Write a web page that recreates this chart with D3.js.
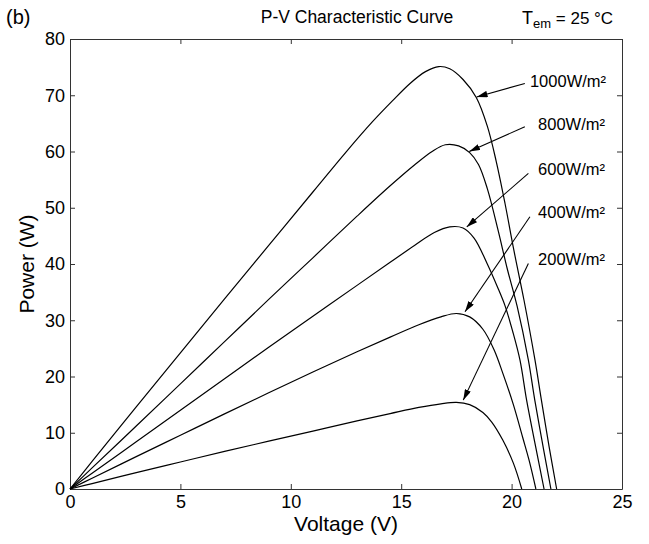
<!DOCTYPE html>
<html>
<head>
<meta charset="utf-8">
<script src="https://cdn.jsdelivr.net/npm/d3@7"></script>
<style>
    body { margin: 0; background: #fff; }
    svg { font-family: "Liberation Sans", Arial, sans-serif; }
    .axis path, .axis line { stroke: #333; }
    .axis text { font-size: 18px; fill: #000; }
    .curve { fill: none; stroke: #000; stroke-width: 1.2px; }
    .pointer { stroke: #000; stroke-width: 1.1px; }
</style>
</head>
<body>
<div class="pv-chart"></div>
<script>
// P-V curves: [voltage (V), power (W)]
var curve1000 = [[0,0],[1,4.9],[3,14.6],[5,24.2],[7,33.8],[9,43.3],[11,52.8],[12.5,59.9],[13.7,65.3],[14.6,69.0],[15.4,72.1],[16.1,74.2],[16.7,75.1],[17.2,74.7],[17.8,72.8],[18.4,69.6],[18.9,64.5],[19.3,58.3],[19.7,50.8],[20.1,42.5],[20.56,33.6],[21.06,22.9],[21.35,15.8],[21.7,7.5],[22.04,0]];
var curve800 = [[0,0],[1,3.75],[3,11.2],[5,18.7],[7,26.2],[9,33.7],[11,41.1],[13,48.5],[14.5,53.9],[15.6,57.6],[16.4,60.0],[17.0,61.2],[17.6,61.0],[18.1,59.8],[18.5,57.7],[18.9,53.4],[19.4,45.8],[19.8,39.2],[20.25,32.5],[20.76,22.9],[21.05,15.8],[21.45,7.0],[21.78,0]];
var curve600 = [[0,0],[1,2.8],[3,8.4],[5,14.0],[7,19.6],[9,25.2],[11,30.7],[13,36.2],[14.5,40.3],[15.6,43.3],[16.5,45.6],[17.2,46.6],[17.8,46.4],[18.3,44.6],[18.9,40.0],[19.35,36.0],[19.7,32.6],[20.05,28.0],[20.38,22.9],[20.68,15.8],[21.05,8.3],[21.47,0]];
var curve400 = [[0,0],[1,1.92],[3,5.75],[5,9.55],[7,13.35],[9,17.1],[11,20.8],[13,24.4],[14.5,27.0],[15.8,29.2],[16.8,30.6],[17.5,31.2],[18.1,30.6],[18.7,28.4],[19.2,24.8],[19.6,20.6],[20.08,15.0],[20.5,9.2],[20.8,5.0],[21.1,0]];
var curve200 = [[0,0],[1,0.97],[3,2.9],[5,4.8],[7,6.7],[9,8.5],[11,10.3],[13,12.1],[14.5,13.4],[15.8,14.5],[16.8,15.15],[17.5,15.4],[18.1,15.0],[18.7,13.6],[19.1,11.9],[19.6,8.7],[20.08,4.6],[20.46,0]];

var curves = [curve1000, curve800, curve600, curve400, curve200];
var irradianceLabels = ['1000W/m\u00b2', '800W/m\u00b2', '600W/m\u00b2', '400W/m\u00b2', '200W/m\u00b2'];
// annotation anchors in data units: label start, arrow tail, arrow head
var labelAt = [[20.83,71.5],[21.2,63.8],[21.2,55.8],[21.2,48.2],[21.2,39.8]];
var arrowFrom = [[20.6,72.1],[20.6,64.4],[20.76,56.1],[20.83,48.4],[20.76,40.1]];
var arrowTo = [[18.42,69.7],[18.08,60.0],[17.97,46.6],[17.89,31.5],[17.81,15.8]];

var xTicks = [0, 5, 10, 15, 20, 25];
var yTicks = [0, 10, 20, 30, 40, 50, 60, 70, 80];

var width = 649, height = 544;
var margin = {top: 39, right: 27, bottom: 55, left: 70};

var svg = d3.select('.pv-chart').append('svg')
    .attr('width', width)
    .attr('height', height);

var x = d3.scaleLinear().domain([0, 25]).range([margin.left, width - margin.right]);
var y = d3.scaleLinear().domain([0, 80]).range([height - margin.bottom, margin.top]);

svg.append('defs').append('marker')
    .attr('id', 'head')
    .attr('markerUnits', 'userSpaceOnUse')
    .attr('viewBox', '0 0 10 6')
    .attr('refX', 10).attr('refY', 3)
    .attr('markerWidth', 11).attr('markerHeight', 6.5)
    .attr('orient', 'auto')
    .append('path')
    .attr('d', 'M0,0L10,3L0,6Z')
    .attr('fill', '#000');

// box with inward ticks on all four sides
svg.append('g').attr('class', 'axis')
    .attr('transform', 'translate(0,' + y(0) + ')')
    .call(d3.axisBottom(x).tickValues(xTicks).tickSizeInner(-5).tickSizeOuter(0).tickPadding(6));
svg.append('g').attr('class', 'axis')
    .attr('transform', 'translate(' + x(0) + ',0)')
    .call(d3.axisLeft(y).tickValues(yTicks).tickSizeInner(-5).tickSizeOuter(0).tickPadding(5));
svg.append('g').attr('class', 'axis')
    .attr('transform', 'translate(0,' + y(80) + ')')
    .call(d3.axisTop(x).tickValues(xTicks).tickSizeInner(-5).tickSizeOuter(0).tickFormat(''));
svg.append('g').attr('class', 'axis')
    .attr('transform', 'translate(' + x(25) + ',0)')
    .call(d3.axisRight(y).tickValues(yTicks).tickSizeInner(-5).tickSizeOuter(0).tickFormat(''));

svg.selectAll('.axis text').attr('font-family', null);

var line = d3.line()
    .x(d => x(d[0]))
    .y(d => y(d[1]))
    .curve(d3.curveCatmullRom.alpha(0.5));

svg.append('g').selectAll('path')
    .data(curves)
    .enter().append('path')
    .attr('class', 'curve')
    .attr('d', line);

svg.append('g').selectAll('line')
    .data(arrowFrom)
    .enter().append('line')
    .attr('class', 'pointer')
    .attr('x1', d => x(d[0])).attr('y1', d => y(d[1]))
    .attr('x2', (d, i) => x(arrowTo[i][0])).attr('y2', (d, i) => y(arrowTo[i][1]))
    .attr('marker-end', 'url(#head)');

svg.append('g').selectAll('text')
    .data(irradianceLabels)
    .enter().append('text')
    .attr('x', (d, i) => x(labelAt[i][0]))
    .attr('y', (d, i) => y(labelAt[i][1]))
    .attr('font-size', 16.5)
    .text(d => d);

// titles
svg.append('text')
    .attr('x', 6).attr('y', 24)
    .attr('font-size', 20)
    .text('(b)');

svg.append('text')
    .attr('x', 357).attr('y', 23)
    .attr('text-anchor', 'middle')
    .attr('font-size', 17.5)
    .text('P-V Characteristic Curve');

var tem = svg.append('text')
    .attr('x', 522).attr('y', 24)
    .attr('font-size', 18);
tem.append('tspan').text('T');
tem.append('tspan').attr('font-size', 13).attr('dy', 4).text('em');
tem.append('tspan').attr('font-size', 17).attr('dy', -4).text(' = 25 \u00b0C');

svg.append('text')
    .attr('x', (x(0) + x(25)) / 2).attr('y', 531)
    .attr('text-anchor', 'middle')
    .attr('font-size', 21)
    .text('Voltage (V)');

svg.append('text')
    .attr('transform', 'translate(34,' + (y(0) + y(80)) / 2 + ') rotate(-90)')
    .attr('text-anchor', 'middle')
    .attr('font-size', 21)
    .text('Power (W)');
</script>
</body>
</html>
